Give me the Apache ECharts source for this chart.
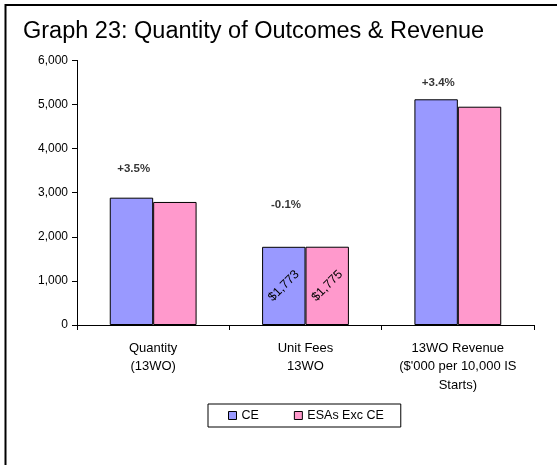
<!DOCTYPE html>
<html>
<head>
<meta charset="utf-8">
<script src="https://cdn.jsdelivr.net/npm/echarts@6/dist/echarts.min.js"></script>
<style>
html,body{margin:0;padding:0;background:#fff;}
#chart{width:557px;height:465px;}
</style>
</head>
<body>
<div id="chart"></div>
<script>
var categories = ['Quantity\n(13WO)', 'Unit Fees\n13WO', "13WO Revenue\n($'000 per 10,000 IS\nStarts)"];
var seriesNames = ['CE', 'ESAs Exc CE'];
var ceValues = [2887, 1773, 5118];
var esaValues = [2790, 1775, 4950];
var changeLabels = ['+3.5%', '-0.1%', '+3.4%'];
var insideLabels = ['', '$1,773', '$1,775'];
var yTicks = [0, 1000, 2000, 3000, 4000, 5000, 6000];

var FONT = '"Liberation Sans", Arial, sans-serif';
var chart = echarts.init(document.getElementById('chart'), null, {renderer: 'canvas'});

var changeDistances = [22.7, 35.7, 10.3];

function barData(values, labelText) {
  return values.map(function (v, i) {
    var item = {value: v};
    if (i === 1) {
      item.label = {
        show: true, position: 'inside', rotate: 45,
        formatter: labelText, color: '#000', fontSize: 12.5, fontFamily: FONT
      };
    }
    return item;
  });
}

var option = {
  backgroundColor: '#fff',
  animation: false,
  title: {
    text: 'Graph 23: Quantity of Outcomes & Revenue',
    left: 23, top: 20, padding: 0,
    textStyle: {fontFamily: FONT, fontSize: 23.5, fontWeight: 'normal', color: '#000'}
  },
  graphic: [{
    type: 'rect', silent: true, z: 100,
    shape: {x: 5.5, y: 5, width: 700, height: 700},
    style: {fill: 'none', stroke: '#000', lineWidth: 2}
  }],
  legend: {
    left: 208, top: 404,
    data: seriesNames,
    itemWidth: 8, itemHeight: 8, itemGap: 35,
    padding: [5, 17, 5, 20],
    borderColor: '#000', borderWidth: 1,
    icon: 'rect',
    itemStyle: {borderColor: '#000', borderWidth: 1},
    textStyle: {fontFamily: FONT, fontSize: 12.5, color: '#000'}
  },
  grid: {left: 77, right: 23, top: 60.4, bottom: 140, containLabel: false, outerBoundsMode: 'none'},
  xAxis: {
    type: 'category',
    data: categories,
    axisLine: {lineStyle: {color: '#000', width: 1}},
    axisTick: {show: true, length: 5, lineStyle: {color: '#000'}},
    axisLabel: {
      interval: 0, margin: 14, color: '#000', fontFamily: FONT, fontSize: 13, lineHeight: 18.5
    }
  },
  yAxis: {
    type: 'value',
    min: yTicks[0], max: yTicks[yTicks.length - 1], interval: yTicks[1] - yTicks[0],
    axisLine: {show: true, lineStyle: {color: '#000', width: 1}},
    axisTick: {show: true, length: 5, lineStyle: {color: '#000'}},
    splitLine: {show: false},
    axisLabel: {
      margin: 9, color: '#000', fontFamily: FONT, fontSize: 12,
      formatter: function (v) { return v.toLocaleString('en-US'); }
    }
  },
  series: [
    {
      name: seriesNames[0], type: 'bar',
      barGap: '0%', barCategoryGap: '43%',
      itemStyle: {color: '#9999FF', borderColor: '#000', borderWidth: 1},
      data: barData(ceValues, insideLabels[1])
    },
    {
      name: seriesNames[1], type: 'bar',
      barGap: '0%', barCategoryGap: '43%',
      itemStyle: {color: '#FF99CC', borderColor: '#000', borderWidth: 1},
      data: barData(esaValues, insideLabels[2])
    },
    {
      name: 'change', type: 'scatter', silent: true,
      symbolSize: 0,
      data: ceValues.map(function (v, i) {
        return {
          value: v,
          label: {
            show: true, position: 'top', distance: changeDistances[i],
            offset: [-19.5, 0],
            formatter: changeLabels[i],
            color: '#000', fontFamily: FONT, fontSize: 11.5, fontWeight: 'bold'
          }
        };
      })
    }
  ]
};
chart.setOption(option);
</script>
</body>
</html>
